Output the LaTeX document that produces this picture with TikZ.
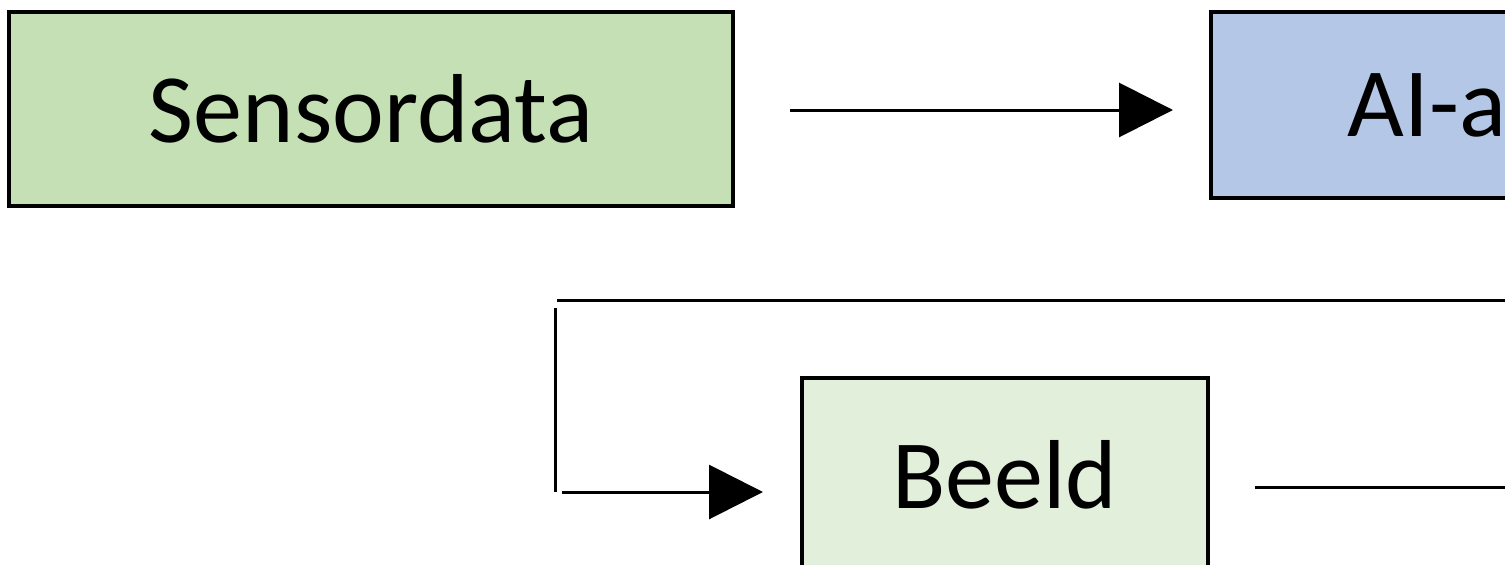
\documentclass[tikz,border=0pt]{standalone}
\usepackage{fontspec}
\setmainfont{Carlito}
\usetikzlibrary{arrows.meta}
\definecolor{sgreen}{HTML}{C5E0B4}
\definecolor{sblue}{HTML}{B4C7E7}
\definecolor{lgreen}{HTML}{E2EFDA}
\tikzset{
  boxnode/.style={draw=black, line width=4.8pt, rectangle, inner sep=0pt,
    font=\fontsize{98}{112}\selectfont},
  conn/.style={draw=black, line width=3pt},
  arr/.style={conn, -{Triangle[length=54pt,width=54pt]}}
}
\begin{document}
\begin{tikzpicture}[x=1pt,y=-1pt]
\useasboundingbox (0,0) rectangle (1505,565);
\clip (0,0) rectangle (1505,565);
\fill[white] (0,0) rectangle (1505,565);
% boxes
\node[boxnode, fill=sgreen, minimum width=724pt, minimum height=194pt] (S) at (371,109) {Sensordata};
\node[boxnode, fill=sblue, minimum width=432pt, minimum height=186pt] (AI) at (1427,105) {AI-a};
\node[boxnode, fill=lgreen, minimum width=406pt, minimum height=194pt] (B) at (1005,475) {Beeld};
% arrow Sensordata -> AI
\coordinate (a1s) at (790,110);
\coordinate (a1e) at (1173,110);
\draw[arr] (a1s) -- (a1e);
% feedback loop
\coordinate (fbR) at (1530,300);
\coordinate (fbL) at (557,300);
\coordinate (fvT) at (555,308);
\coordinate (fvB) at (555,492);
\coordinate (fbB) at (562,492);
\coordinate (fbT) at (763,492);
\draw[conn] (fbR) -- (fbL);
\draw[conn] (fvT) -- (fvB);
\draw[arr] (fbB) -- (fbT);
% line out of Beeld
\coordinate (bo1) at (1255,487);
\coordinate (bo2) at (1530,487);
\draw[conn] (bo1) -- (bo2);
\end{tikzpicture}
\end{document}
